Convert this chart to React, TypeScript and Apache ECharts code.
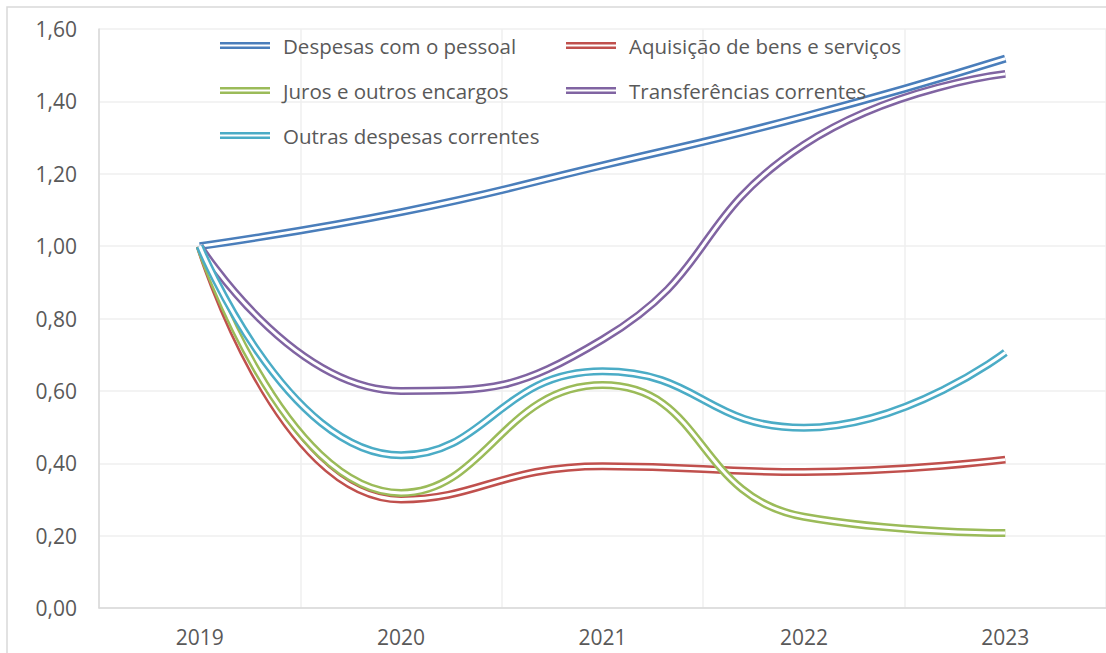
import React, { useEffect, useRef } from "react";
import * as echarts from "echarts";

const years = ["2019", "2020", "2021", "2022", "2023"];
const despesasPessoal = [1.0, 1.094, 1.223, 1.358, 1.518];
const aquisicaoBens = [1.0, 0.3, 0.392, 0.376, 0.41];
const jurosEncargos = [1.0, 0.318, 0.616, 0.252, 0.207];
const transferencias = [1.0, 0.6, 0.742, 1.28, 1.476];
const outrasDespesas = [1.0, 0.422, 0.654, 0.498, 0.706];

const seriesNames = [
  "Despesas com o pessoal",
  "Aquisição de bens e serviços",
  "Juros e outros encargos",
  "Transferências correntes",
  "Outras despesas correntes",
];
const seriesData = [despesasPessoal, aquisicaoBens, jurosEncargos, transferencias, outrasDespesas];
const seriesColors = ["#4A7EBB", "#C0504D", "#9BBB59", "#8064A2", "#4BACC6"];

const FONT = "'Open Sans', 'Noto Sans', sans-serif";
const TXT = "#595959";
const ICON = "path://M0,0H50V2.5H0Z M0,4.5H50V7H0Z";

export default function App() {
  const ref = useRef<HTMLDivElement>(null);
  useEffect(() => {
    if (!ref.current) return;
    const chart = echarts.init(ref.current, undefined, { renderer: "svg" });
    const series: any[] = [];
    seriesNames.forEach((name, i) => {
      series.push({
        name,
        type: "line",
        data: seriesData[i],
        smooth: true,
        showSymbol: false,
        symbol: "none",
        color: seriesColors[i],
        lineStyle: { color: seriesColors[i], width: 8 },
        itemStyle: { color: seriesColors[i] },
      });
      series.push({
        name: "_gap" + i,
        type: "line",
        data: seriesData[i],
        smooth: true,
        showSymbol: false,
        symbol: "none",
        lineStyle: { color: "#ffffff", width: 3 },
        silent: true,
      });
    });
    const legendCommon = {
      orient: "vertical",
      top: 35,
      padding: 0,
      itemWidth: 50,
      itemHeight: 7,
      itemGap: 24,
      icon: ICON,
      itemStyle: { borderWidth: 0 },
      textStyle: {
        fontFamily: FONT,
        fontSize: 20.5,
        color: TXT,
        lineHeight: 20,
        padding: [0, 0, 0, 8],
      },
      selectedMode: false,
    };
    chart.setOption({
      animation: false,
      backgroundColor: "#ffffff",
      graphic: [
        {
          type: "rect",
          shape: { x: 7, y: 7, width: 1300, height: 900 },
          style: { fill: "none", stroke: "#d9d9d9", lineWidth: 1.5 },
          z: 100,
          silent: true,
        },
      ],
      legend: [
        { ...legendCommon, left: 220, data: [seriesNames[0], seriesNames[2], seriesNames[4]] },
        { ...legendCommon, left: 566, data: [seriesNames[1], seriesNames[3]] },
      ],
      grid: { left: 99, right: -3, top: 29, bottom: 45, containLabel: false },
      xAxis: {
        type: "category",
        data: years,
        boundaryGap: true,
        axisLine: { show: true, lineStyle: { color: "#d9d9d9", width: 1.5 } },
        axisTick: { show: false },
        axisLabel: { color: TXT, fontFamily: FONT, fontSize: 21, margin: 18 },
        splitLine: { show: true, lineStyle: { color: "#efefef", width: 1.5 } },
      },
      yAxis: {
        type: "value",
        min: 0,
        max: 1.6,
        interval: 0.2,
        axisLine: { show: true, lineStyle: { color: "#d9d9d9", width: 1.5 } },
        axisTick: { show: false },
        axisLabel: {
          color: TXT,
          fontFamily: FONT,
          fontSize: 21,
          margin: 22,
          formatter: (v: number) => v.toFixed(2).replace(".", ","),
        },
        splitLine: { show: true, lineStyle: { color: "#efefef", width: 1.5 } },
      },
      series,
    });
    return () => chart.dispose();
  }, []);
  return (
    <div
      ref={ref}
      style={{ position: "fixed", left: 0, top: 0, width: 1106, height: 653, background: "#fff" }}
    />
  );
}
